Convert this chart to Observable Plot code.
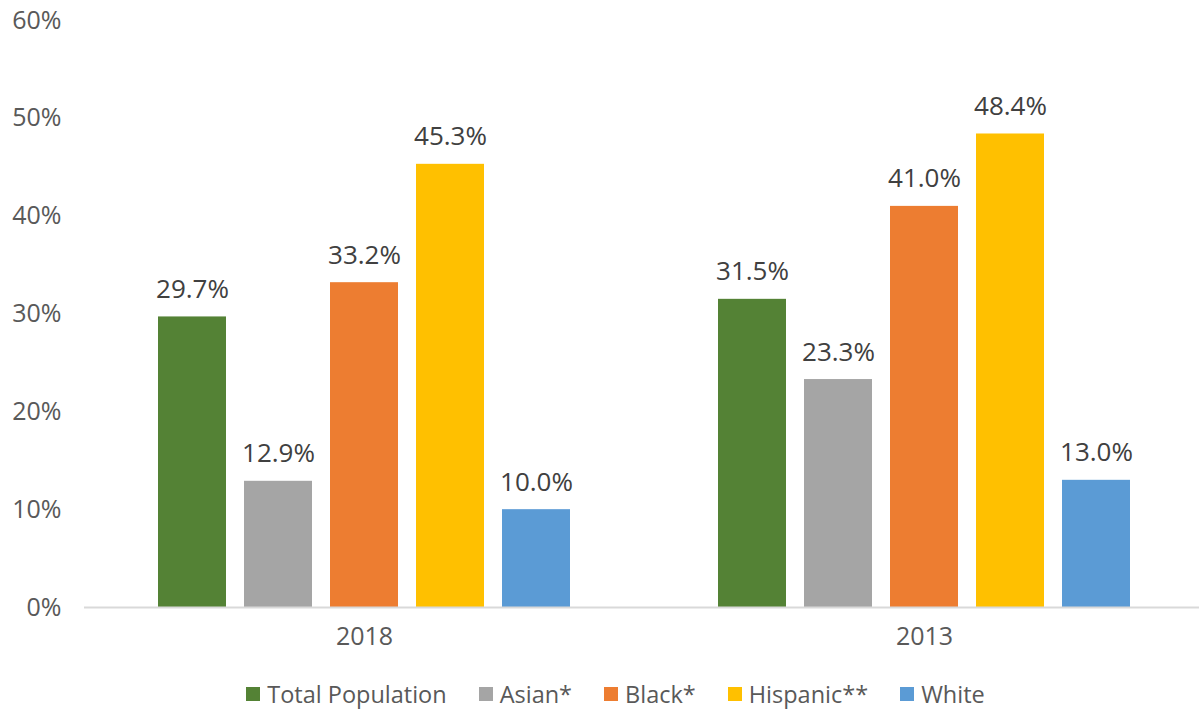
<!DOCTYPE html>
<html>
<head>
<meta charset="utf-8">
<script src="https://cdn.jsdelivr.net/npm/d3@7"></script>
<script src="https://cdn.jsdelivr.net/npm/@observablehq/plot@0.6"></script>
<style>
  html, body { margin: 0; padding: 0; background: #fff; }
  body { width: 1199px; height: 709px; overflow: hidden; font-family: "Open Sans", sans-serif; }
  #legend { display: flex; justify-content: center; align-items: center; margin-top: 13px; margin-left: 32px; font-size: 23.5px; color: #595959; }
  .item { display: flex; align-items: center; margin: 0 16px; }
  .sw { width: 14px; height: 14px; margin-right: 7px; }
</style>
</head>
<body>
<div id="chart"></div>
<div id="legend"></div>
<script>
const years = ["2018", "2013"];
const groups = ["Total Population", "Asian*", "Black*", "Hispanic**", "White"];
const colors = ["#548235", "#A5A5A5", "#ED7D31", "#FFC000", "#5B9BD5"];
const values2018 = [29.7, 12.9, 33.2, 45.3, 10.0];
const values2013 = [31.5, 23.3, 41.0, 48.4, 13.0];
const yTicks = [0, 10, 20, 30, 40, 50, 60];

const data = [];
groups.forEach((g, i) => {
  data.push({year: years[0], group: g, value: values2018[i]});
  data.push({year: years[1], group: g, value: values2013[i]});
});

const chart = Plot.plot({
  width: 1199,
  height: 665,
  marginLeft: 82,
  marginRight: 0,
  marginTop: 20,
  marginBottom: 58,
  style: {fontFamily: "'Open Sans', sans-serif", fontSize: "25px", color: "#595959", background: "#fff"},
  fx: {domain: years, range: [84, 1204], padding: 0, label: null},
  x: {domain: groups, paddingInner: 0.209, paddingOuter: 0.86, axis: null},
  y: {domain: [0, 60], label: null},
  color: {domain: groups, range: colors},
  marks: [
    Plot.axisY({ticks: yTicks, tickFormat: d => d + "%", tickSize: 0, tickPadding: 23, label: null, fontSize: 25, fill: "#595959"}),
    Plot.axisFx({anchor: "bottom", tickSize: 0, tickPadding: 20, label: null, fontSize: 25, fill: "#595959"}),
    Plot.barY(data, {fx: "year", x: "group", y: "value", fill: "group"}),
    Plot.ruleY([0], {stroke: "#D9D9D9", strokeWidth: 2}),
    Plot.text(data, {fx: "year", x: "group", y: "value", text: d => d.value.toFixed(1) + "%", lineAnchor: "bottom", dy: -19, fill: "#404040", fontSize: 26})
  ]
});
document.getElementById("chart").appendChild(chart);

const legend = document.getElementById("legend");
groups.forEach((g, i) => {
  const item = document.createElement("div");
  item.className = "item";
  const sw = document.createElement("span");
  sw.className = "sw";
  sw.style.background = colors[i];
  const label = document.createElement("span");
  label.textContent = g;
  item.appendChild(sw);
  item.appendChild(label);
  legend.appendChild(item);
});
</script>
</body>
</html>
